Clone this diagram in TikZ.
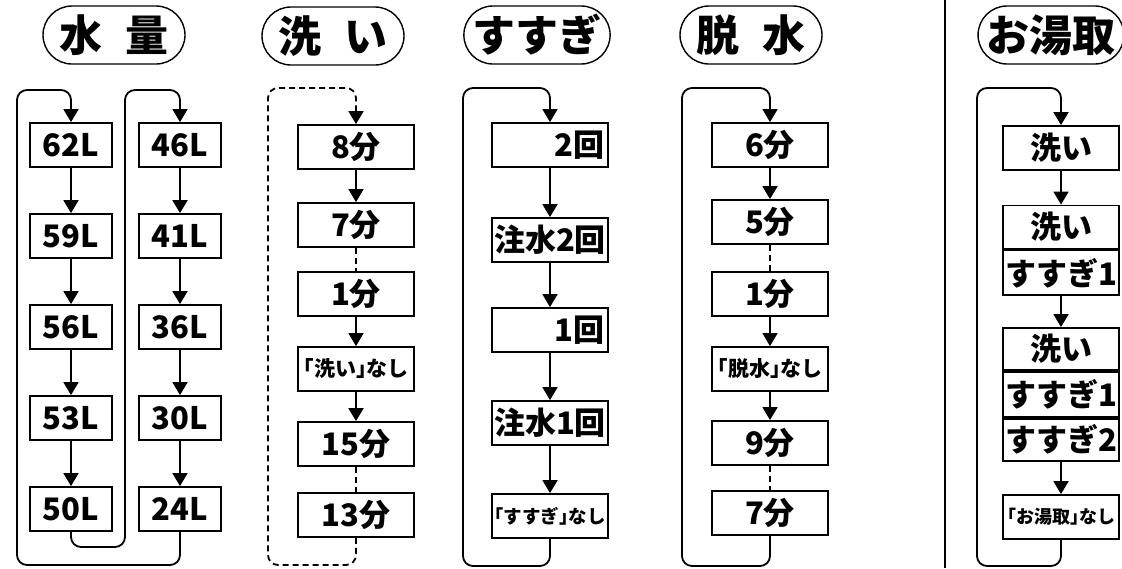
\documentclass[tikz,border=0pt]{standalone}
\usepackage{fontspec}
\newfontfamily\jpfont{Noto Sans CJK JP}
\usetikzlibrary{arrows.meta, positioning, shapes.misc}

\begin{document}
\begin{tikzpicture}[
    x=1pt, y=-1pt,
    headpill/.style={draw, rounded rectangle, line width=1.4pt, minimum width=142pt, minimum height=58pt, inner sep=0pt, font=\jpfont\bfseries\fontsize{43}{43}\selectfont},
    stepbox/.style={draw, fill=white, line width=1.8pt, minimum width=116pt, minimum height=44pt, inner sep=0pt, font=\jpfont\bfseries\fontsize{31}{31}\selectfont},
    volbox/.style={stepbox, minimum width=82pt},
    nonebox/.style={stepbox, font=\jpfont\bfseries\fontsize{21}{21}\selectfont},
    rightbox/.style={stepbox, text width=108pt, align=right, inner xsep=4pt},
    flow/.style={-{Triangle[length=13pt, width=15pt]}, line width=1.8pt},
    gapline/.style={line width=1.5pt, dash pattern=on 6pt off 4pt},
    backline/.style={line width=2pt, rounded corners=10pt},
    node distance=0pt
]
\useasboundingbox (0,0) rectangle (1122,568);

% titles
\node[headpill] (tVol) at (114,35) {水\hspace{0.55em}量};
\node[headpill] (tWash) at (333,36) {洗\hspace{0.55em}い};
\node[headpill] (tRinse) at (537,35) {すすぎ};
\node[headpill] (tSpin) at (751,35) {脱\hspace{0.55em}水};
\node[headpill, minimum width=140pt] (tBath) at (1051,35) {お湯取};

% water volume
\node[volbox] (vol62) at (71,145) {62L};
\node[volbox] (vol59) at (71,236) {59L};
\node[volbox] (vol56) at (71,327) {56L};
\node[volbox] (vol53) at (71,418) {53L};
\node[volbox] (vol50) at (71,509) {50L};
\node[volbox] (vol46) at (180,145) {46L};
\node[volbox] (vol41) at (180,236) {41L};
\node[volbox] (vol36) at (180,327) {36L};
\node[volbox] (vol30) at (180,418) {30L};
\node[volbox] (vol24) at (180,509) {24L};

% wash
\node[stepbox] (wash8) at (356,147) {8分};
\node[stepbox] (wash7) at (356,225) {7分};
\node[stepbox] (wash1) at (356,294) {1分};
\node[nonebox] (washNone) at (356,369) {｢洗い｣なし};
\node[stepbox] (wash15) at (356,444) {15分};
\node[stepbox] (wash13) at (356,515) {13分};

% rinse
\node[rightbox] (rin2) at (550,145) {2回};
\node[stepbox] (rinPour2) at (550,240) {注水2回};
\node[rightbox] (rin1) at (550,330) {1回};
\node[stepbox] (rinPour1) at (550,423) {注水1回};
\node[nonebox, font=\jpfont\bfseries\fontsize{18.5}{18.5}\selectfont] (rinNone) at (550,516) {｢すすぎ｣なし};

% spin
\node[stepbox] (spin6) at (770,145) {6分};
\node[stepbox] (spin5) at (770,222) {5分};
\node[stepbox] (spin1) at (770,294) {1分};
\node[nonebox] (spinNone) at (770,369) {｢脱水｣なし};
\node[stepbox] (spin9) at (770,443) {9分};
\node[stepbox] (spin7) at (770,513) {7分};

% bath water
\node[stepbox] (bath1) at (1061,148) {洗い};
\node[stepbox, minimum height=43pt] (bath2a) at (1061,227) {洗い};
\node[stepbox, minimum height=45pt, below=of bath2a] (bath2b) {すすぎ1};
\node[stepbox, minimum height=42pt] (bath3a) at (1061,349) {洗い};
\node[stepbox, minimum height=45pt, below=of bath3a] (bath3b) {すすぎ1};
\node[stepbox, minimum height=42pt, below=of bath3b] (bath3c) {すすぎ2};
\node[nonebox, font=\jpfont\bfseries\fontsize{18}{18}\selectfont] (bathNone) at (1061,517) {｢お湯取｣なし};

% separator
\draw[line width=1.8pt] (945,0) -- (945,568);

% arrows
\draw[flow] (vol62) -- (vol59);
\draw[flow] (vol59) -- (vol56);
\draw[flow] (vol56) -- (vol53);
\draw[flow] (vol53) -- (vol50);
\draw[flow] (vol46) -- (vol41);
\draw[flow] (vol41) -- (vol36);
\draw[flow] (vol36) -- (vol30);
\draw[flow] (vol30) -- (vol24);
\draw[backline, flow] (vol24.south) -- (180,565) -- (17,565) -- (17,90) -- (71,90) -- (vol62.north);
\draw[backline, flow] (vol50.south) -- (71,547) -- (125,547) -- (125,90) -- (180,90) -- (vol46.north);

\draw[flow] (wash8) -- (wash7);
\draw[gapline] (wash7) -- (wash1);
\draw[flow] (wash1) -- (washNone);
\draw[flow] (washNone) -- (wash15);
\draw[gapline] (wash15) -- (wash13);
\draw[backline, gapline, flow] (wash13.south) -- (356,565) -- (268,565) -- (268,88) -- (356,88) -- (wash8.north);

\draw[flow] (rin2) -- (rinPour2);
\draw[flow] (rinPour2) -- (rin1);
\draw[flow] (rin1) -- (rinPour1);
\draw[flow] (rinPour1) -- (rinNone);
\draw[backline, flow] (rinNone.south) -- (550,566) -- (463,566) -- (463,88) -- (550,88) -- (rin2.north);

\draw[flow] (spin6) -- (spin5);
\draw[gapline] (spin5) -- (spin1);
\draw[flow] (spin1) -- (spinNone);
\draw[flow] (spinNone) -- (spin9);
\draw[gapline] (spin9) -- (spin7);
\draw[backline, flow] (spin7.south) -- (770,566) -- (682,566) -- (682,88) -- (770,88) -- (spin6.north);

\draw[flow] (bath1) -- (bath2a);
\draw[flow] (bath2b) -- (bath3a);
\draw[flow] (bath3c) -- (bathNone);
\draw[backline, flow] (bathNone.south) -- (1061,566) -- (977,566) -- (977,88) -- (1061,88) -- (bath1.north);
\end{tikzpicture}
\end{document}
